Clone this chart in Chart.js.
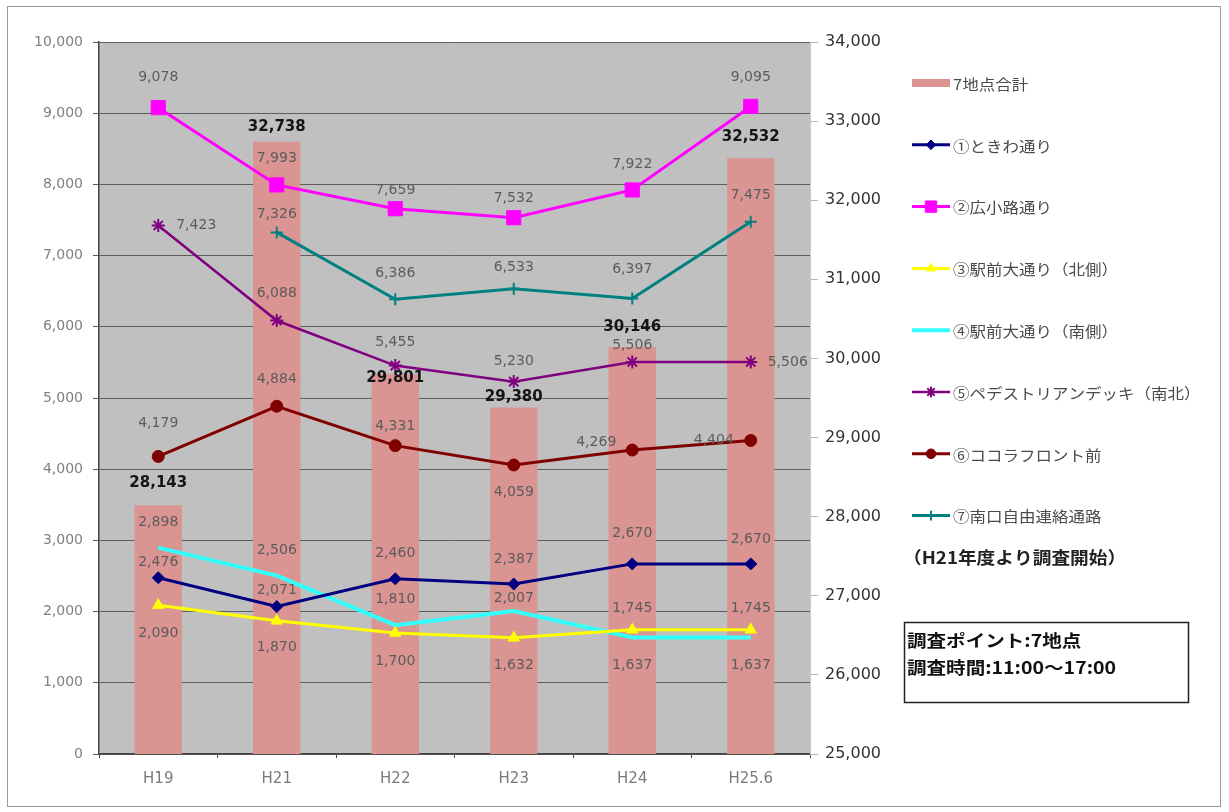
<!DOCTYPE html>
<html>
<head>
<meta charset="utf-8">
<script src="https://cdn.jsdelivr.net/npm/chart.js@4.4.1/dist/chart.umd.min.js"></script>
<style>
  html, body { margin: 0; padding: 0; background: #ffffff; }
  #wrap { width: 1229px; height: 812px; position: relative; }
</style>
</head>
<body>
<div id="wrap"><canvas id="c"></canvas></div>
<script>
// 年度
const years = ['H19', 'H21', 'H22', 'H23', 'H24', 'H25.6'];

// 7地点合計（右軸）
const total7 = [28143, 32738, 29801, 29380, 30146, 32532];

// 各地点の通行量（左軸）
const tokiwa         = [2476, 2071, 2460, 2387, 2670, 2670];
const hirokoji       = [9078, 7993, 7659, 7532, 7922, 9095];
const ekimaeNorth    = [2090, 1870, 1700, 1632, 1745, 1745];
const ekimaeSouth    = [2898, 2506, 1810, 2007, 1637, 1637];
const pedestrianDeck = [7423, 6088, 5455, 5230, 5506, 5506];
const cocolaFront    = [4179, 4884, 4331, 4059, 4269, 4404];
const southPassage   = [null, 7326, 6386, 6533, 6397, 7475];

// 系列名
const seriesNames = [
  '7地点合計',
  '①ときわ通り',
  '②広小路通り',
  '③駅前大通り（北側）',
  '④駅前大通り（南側）',
  '⑤ペデストリアンデッキ（南北）',
  '⑥ココラフロント前',
  '⑦南口自由連絡通路'
];

// 軸の範囲
const leftAxis  = { min: 0,     max: 10000, step: 1000 };
const rightAxis = { min: 25000, max: 34000, step: 1000 };

const noteText = '（H21年度より調査開始）';
const infoLines = ['調査ポイント:7地点', '調査時間:11:00〜17:00'];

// データラベルの位置（点からのずれ [dx, dy]）
const labelShift = {
  total:   [[0,-22],[0,-15],[0,4],[0,-10],[0,-20],[0,-21]],
  tokiwa:  [[0,-15],[0,-16],[0,-25],[0,-25],[0,-31],[0,-25]],
  hiro:    [[0,-30],[0,-27],[0,-18],[0,-19],[0,-26],[0,-29]],
  north:   [[0,28],[0,27],[0,28],[0,28],[0,-21],[0,-21]],
  south:   [[0,-25],[0,-25],[0,-26],[0,-13],[0,28],[0,28]],
  deck:    [[38,0],[0,-27],[0,-23],[0,-20],[0,-17],[37,0]],
  cocola:  [[0,-33],[0,-27],[0,-19],[0,27],[-36,-8],[-37,0]],
  passage: [null,[0,-18],[0,-26],[0,-21],[0,-29],[0,-26]]
};

const fmt = v => Number(v).toLocaleString('en-US');
const NUM_FONT = "'DejaVu Sans', sans-serif";
const JP_FONT = "'Noto Sans CJK JP', 'Noto Sans', sans-serif";

function lineSet(label, data, color, style, radius, width, shiftKey) {
  return {
    type: 'line', label, data, yAxisID: 'y', order: 0,
    borderColor: color, backgroundColor: color, borderWidth: width,
    pointStyle: style, pointRadius: style ? radius : 0,
    pointBorderColor: color, pointBackgroundColor: color,
    pointBorderWidth: style === 'star' || style === 'cross' ? 2 : 1,
    tension: 0, spanGaps: false, shiftKey
  };
}

const datasets = [
  {
    type: 'bar', label: seriesNames[0], data: total7, yAxisID: 'y1', order: 1,
    backgroundColor: '#da9492', borderWidth: 0,
    barPercentage: 0.4, categoryPercentage: 1.0, shiftKey: 'total'
  },
  lineSet(seriesNames[1], tokiwa,         '#000080', 'rectRot',  6,   3, 'tokiwa'),
  lineSet(seriesNames[2], hirokoji,       '#ff00ff', 'rect',     10,  3, 'hiro'),
  lineSet(seriesNames[3], ekimaeNorth,    '#ffff00', 'triangle', 6.5, 3, 'north'),
  lineSet(seriesNames[4], ekimaeSouth,    '#33ffff', false,      0,   4, 'south'),
  lineSet(seriesNames[5], pedestrianDeck, '#800080', 'star',     6.5, 2.5, 'deck'),
  lineSet(seriesNames[6], cocolaFront,    '#800000', 'circle',   6,   3, 'cocola'),
  lineSet(seriesNames[7], southPassage,   '#008080', 'cross',    6,   3, 'passage')
];

// 背景・枠
const backdrop = {
  id: 'backdrop',
  beforeDraw(chart) {
    const { ctx, chartArea: a } = chart;
    ctx.save();
    ctx.fillStyle = '#ffffff';
    ctx.fillRect(0, 0, chart.width, chart.height);
    ctx.strokeStyle = '#9a9a9a';
    ctx.lineWidth = 1;
    ctx.strokeRect(7.5, 6.5, 1213, 800);
    ctx.fillStyle = '#c0c0c0';
    ctx.fillRect(a.left, a.top, a.right - a.left, a.bottom - a.top);
    ctx.restore();
  }
};

// データラベル
const valueLabels = {
  id: 'valueLabels',
  afterDatasetsDraw(chart) {
    const { ctx } = chart;
    ctx.save();
    ctx.textAlign = 'center';
    ctx.textBaseline = 'middle';
    const order = [];
    chart.data.datasets.forEach((ds, i) => { if (ds.type !== 'bar') order.push(i); });
    chart.data.datasets.forEach((ds, i) => { if (ds.type === 'bar') order.push(i); });
    order.forEach(i => {
      const ds = chart.data.datasets[i];
      const meta = chart.getDatasetMeta(i);
      const shifts = labelShift[ds.shiftKey];
      const isBar = ds.type === 'bar';
      ctx.font = isBar ? `bold 15px ${NUM_FONT}` : `14px ${NUM_FONT}`;
      ctx.fillStyle = isBar ? '#141414' : '#5c5c5c';
      meta.data.forEach((el, j) => {
        const v = ds.data[j];
        if (v === null || v === undefined || !shifts[j]) return;
        const [dx, dy] = shifts[j];
        ctx.fillText(fmt(v), el.x + dx, el.y + dy);
      });
    });
    ctx.restore();
  }
};

// 凡例と注記
const sideLegend = {
  id: 'sideLegend',
  afterDraw(chart) {
    const { ctx } = chart;
    const helpers = Chart.helpers;
    const x0 = 912, x1 = 950, tx = 953, y0 = 83, gap = 61.8;
    ctx.save();
    chart.data.datasets.forEach((ds, i) => {
      const y = y0 + i * gap;
      if (ds.type === 'bar') {
        ctx.fillStyle = ds.backgroundColor;
        ctx.fillRect(x0, y - 4, x1 - x0, 8);
      } else {
        ctx.strokeStyle = ds.borderColor;
        ctx.lineWidth = ds.borderWidth;
        ctx.beginPath();
        ctx.moveTo(x0, y);
        ctx.lineTo(x1, y);
        ctx.stroke();
        if (ds.pointStyle && helpers && helpers.drawPoint) {
          ctx.fillStyle = ds.pointBackgroundColor;
          ctx.strokeStyle = ds.pointBorderColor;
          ctx.lineWidth = ds.pointBorderWidth;
          helpers.drawPoint(ctx, {
            pointStyle: ds.pointStyle, radius: ds.pointRadius * 0.8,
            rotation: 0, borderWidth: ds.pointBorderWidth
          }, (x0 + x1) / 2, y);
        }
      }
      ctx.save();
      ctx.translate(tx, y);
      ctx.scale(1.1, 1);
      ctx.fillStyle = '#4a4a4a';
      ctx.font = `15px ${JP_FONT}`;
      ctx.textAlign = 'left';
      ctx.textBaseline = 'middle';
      ctx.fillText(ds.label, 0, 1);
      ctx.restore();
    });

    // 調査開始の注記
    ctx.save();
    ctx.translate(903, 558);
    ctx.scale(1.1, 1);
    ctx.fillStyle = '#222222';
    ctx.font = `bold 17px ${JP_FONT}`;
    ctx.textAlign = 'left';
    ctx.textBaseline = 'middle';
    ctx.fillText(noteText, 0, 0);
    ctx.restore();

    // 調査条件の枠
    ctx.strokeStyle = '#222222';
    ctx.lineWidth = 1.5;
    ctx.strokeRect(904.5, 622.5, 284, 80);
    infoLines.forEach((t, k) => {
      ctx.save();
      ctx.translate(907, 641 + k * 27);
      ctx.scale(1.15, 1);
      ctx.fillStyle = '#111111';
      ctx.font = `bold 17px ${JP_FONT}`;
      ctx.textAlign = 'left';
      ctx.textBaseline = 'middle';
      ctx.fillText(t, 0, 0);
      ctx.restore();
    });
    ctx.restore();
  }
};

new Chart(document.getElementById('c'), {
  data: { labels: years, datasets },
  options: {
    responsive: true,
    maintainAspectRatio: false,
    animation: false,
    layout: { padding: { top: 42, left: 0, right: 0, bottom: 0 } },
    plugins: { legend: { display: false }, tooltip: { enabled: false } },
    scales: {
      x: {
        offset: true,
        grid: { offset: true, drawOnChartArea: false, tickLength: 4, color: '#444444' },
        border: { color: '#444444', width: 1.5 },
        ticks: { color: '#7a7a7a', font: { family: NUM_FONT, size: 15 }, padding: 12 },
        afterFit(s) { s.height = 58; }
      },
      y: {
        position: 'left',
        min: leftAxis.min, max: leftAxis.max,
        ticks: {
          stepSize: leftAxis.step, color: '#808080',
          font: { family: NUM_FONT, size: 14 }, padding: 10,
          callback: v => fmt(v)
        },
        grid: { color: '#5e5e5e', lineWidth: 1, tickLength: 6 },
        border: { color: '#444444', width: 1.5 },
        afterFit(s) { s.width = 99; }
      },
      y1: {
        position: 'right',
        min: rightAxis.min, max: rightAxis.max,
        ticks: {
          stepSize: rightAxis.step, color: '#333333',
          font: { family: NUM_FONT, size: 16 }, padding: 7,
          callback: v => fmt(v)
        },
        grid: { drawOnChartArea: false, tickLength: 8, color: '#b5b5b5' },
        border: { color: '#cccccc', width: 1 },
        afterFit(s) { s.width = 419; }
      }
    }
  },
  plugins: [backdrop, valueLabels, sideLegend]
});
</script>
</body>
</html>
